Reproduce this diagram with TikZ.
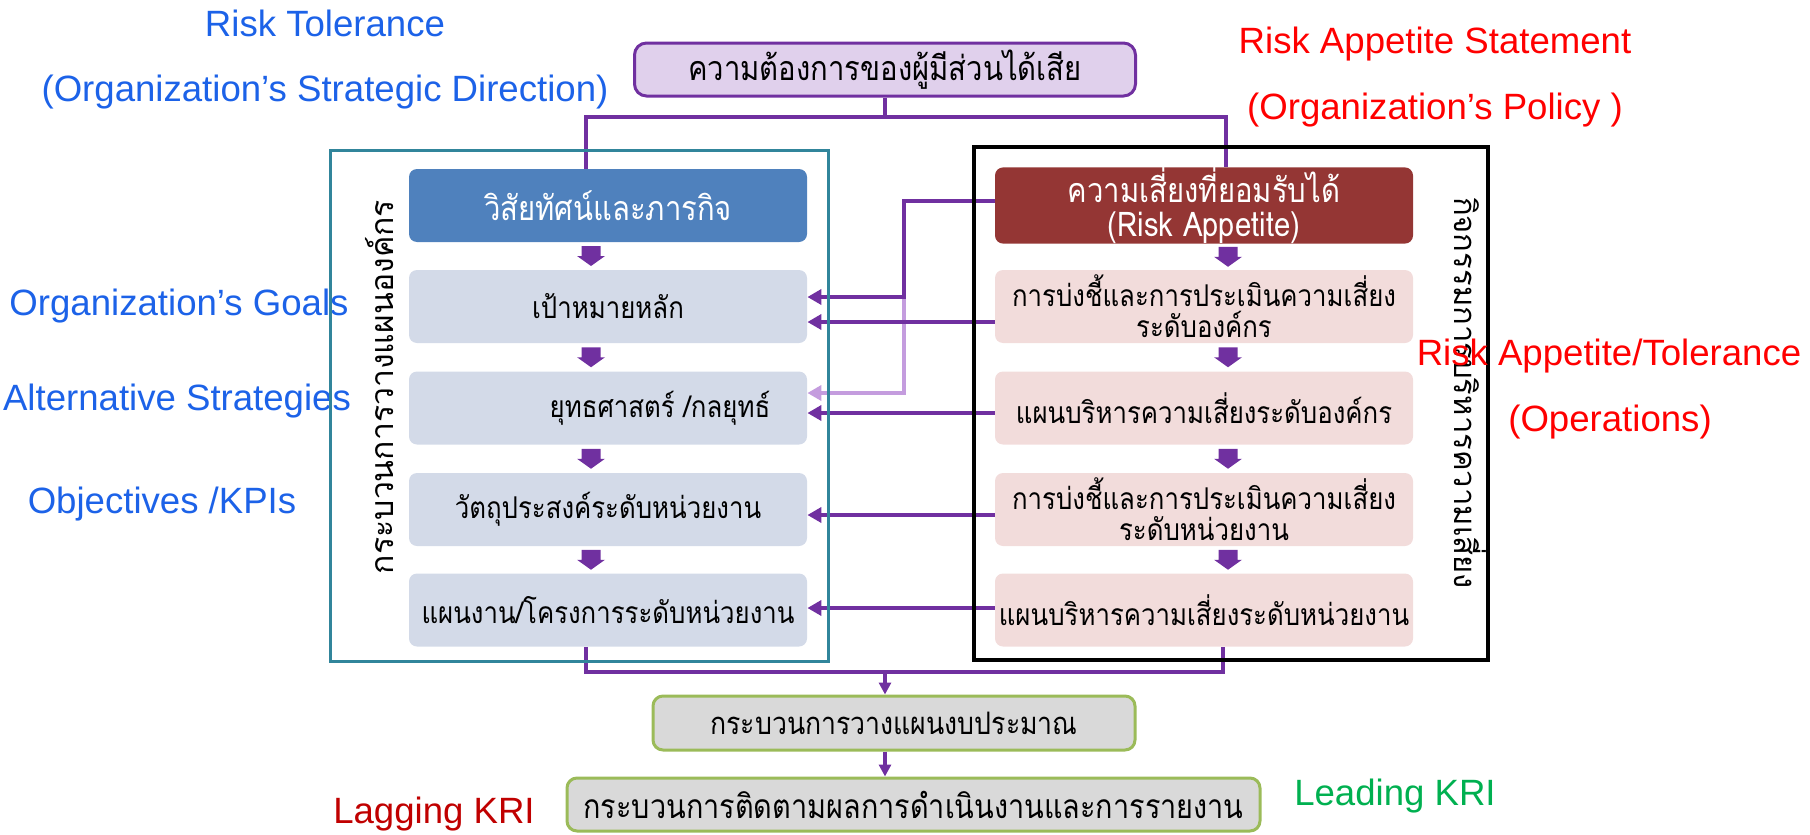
\documentclass[tikz,border=0pt]{standalone}
\usepackage{fontspec}
\setmainfont{Liberation Sans}
\newfontfamily\thaif[Script=Thai,FakeStretch=0.86]{Loma}
\newfontfamily\thaiv[Script=Thai]{Loma}
\usetikzlibrary{arrows.meta,calc}
\definecolor{purp}{RGB}{112,48,160}
\definecolor{lpurp}{RGB}{196,156,222}
\definecolor{topfill}{RGB}{224,208,236}
\definecolor{visblue}{RGB}{79,129,189}
\definecolor{lboxfill}{RGB}{211,218,232}
\definecolor{darkred}{RGB}{148,54,52}
\definecolor{pinkfill}{RGB}{242,220,219}
\definecolor{tealc}{RGB}{49,133,155}
\definecolor{grayfill}{RGB}{217,217,217}
\definecolor{greenb}{RGB}{155,187,89}
\definecolor{bluetext}{RGB}{28,98,232}
\definecolor{redtext}{RGB}{255,0,0}
\definecolor{lagred}{RGB}{192,0,0}
\definecolor{leadgreen}{RGB}{0,176,80}
\newcommand\thtext{\thaif\fontsize{15}{15.5}\selectfont}
\newcommand\thbig{\thaif\fontsize{17}{17}\selectfont}
\newcommand\lbl{\fontsize{18.3}{20}\selectfont}
\begin{document}
\begin{tikzpicture}[x=0.5pt,y=-0.5pt,
  pline/.style={draw=purp,line width=2pt},
  lpline/.style={draw=lpurp,line width=2pt},
  arr/.style={-{Triangle[length=7pt,width=7.5pt]}},
  arrs/.style={-{Triangle[length=6pt,width=6pt]}},
  lbox/.style={fill=lboxfill,rounded corners=4pt,minimum width=199pt,minimum height=36.5pt,inner sep=0pt,font=\thtext,align=center},
  rbox/.style={fill=pinkfill,rounded corners=4pt,minimum width=209pt,minimum height=36.5pt,inner sep=0pt,font=\thtext,align=center},
  gbox/.style={fill=grayfill,draw=greenb,line width=1.5pt,rounded corners=5pt,inner sep=0pt},
  bluelbl/.style={text=bluetext,font=\lbl,inner sep=0pt},
  redlbl/.style={text=redtext,font=\lbl,inner sep=0pt},
  blockdown/.pic={\fill[purp] (-4.75pt,5pt) -- (4.75pt,5pt) -- (4.75pt,0pt) -- (7pt,0pt) -- (0pt,-5pt) -- (-7pt,0pt) -- (-4.75pt,0pt) -- cycle;}
]
\useasboundingbox (0,0) rectangle (1810,835);

% left blue labels
\node[bluelbl] (rt) at (325,23) {Risk Tolerance};
\node[bluelbl] (rtsd) at (325,92) {(Organization’s Strategic Direction)};
\node[bluelbl] (og) at (179,306) {Organization’s Goals};
\node[bluelbl] (as) at (177,401) {Alternative Strategies};
\node[bluelbl] (ok) at (162,504) {Objectives /KPIs};

% boxes
\node[fill=topfill,draw=purp,line width=1.5pt,rounded corners=6pt,minimum width=250.5pt,minimum height=26.5pt,inner sep=0pt,font=\thbig] (top) at (885,69.5) {ความต้องการของผู้มีส่วนได้เสีย};

\node[lbox,fill=visblue,text=white,font=\thbig] (vision) at (608,205.5) {วิสัยทัศน์และภารกิจ};
\node[lbox] (goals) at (608,306.5) {เป้าหมายหลัก};
\node[lbox] (strat) at (608,408) {\hspace*{52pt}ยุทธศาสตร์ /กลยุทธ์};
\node[lbox] (obj) at (608,509.5) {วัตถุประสงค์ระดับหน่วยงาน};
\node[lbox] (plan) at (608,610) {แผนงาน/โครงการระดับหน่วยงาน};

\node[rbox,fill=darkred,text=white,font=\thbig,align=center] (riskapp) at (1204,205.5) {ความเสี่ยงที่ยอมรับได้\\(Risk Appetite)};
\node[rbox] (rgoals) at (1204,306.5) {การบ่งชี้และการประเมินความเสี่ยง\\ระดับองค์กร};
\node[rbox] (rstrat) at (1204,408) {แผนบริหารความเสี่ยงระดับองค์กร};
\node[rbox] (robj) at (1204,509.5) {การบ่งชี้และการประเมินความเสี่ยง\\ระดับหน่วยงาน};
\node[rbox] (rplan) at (1204,610) {แผนบริหารความเสี่ยงระดับหน่วยงาน};

\node[gbox,minimum width=241pt,minimum height=27pt,font=\thaif\fontsize{15.5}{16}\selectfont] (budget) at (894,723) {กระบวนการวางแผนงบประมาณ};
\node[gbox,minimum width=346.5pt,minimum height=26.5pt,font=\thaif\fontsize{16.75}{17}\selectfont] (monitor) at (913.5,804.5) {กระบวนการติดตามผลการดำเนินงานและการรายงาน};

% block arrows
\pic at ($(vision.south)!.5!(goals.north)+(-17,0)$) {blockdown};
\pic at ($(goals.south)!.5!(strat.north)+(-17,0)$) {blockdown};
\pic at ($(strat.south)!.5!(obj.north)+(-17,0)$) {blockdown};
\pic at ($(obj.south)!.5!(plan.north)+(-17,0)$) {blockdown};
\pic at ($(riskapp.south)!.5!(rgoals.north)+(24,0)$) {blockdown};
\pic at ($(rgoals.south)!.5!(rstrat.north)+(24,0)$) {blockdown};
\pic at ($(rstrat.south)!.5!(robj.north)+(24,0)$) {blockdown};
\pic at ($(robj.south)!.5!(rplan.north)+(24,0)$) {blockdown};

% connectors
\coordinate (j1) at (885,117);
\coordinate (j2) at (885,672);
\coordinate (k1) at (904,297);
\coordinate (k2) at (904,393);
\draw[pline] (top.south) -- (j1);
\draw[pline] ([xshift=-11pt]vision.north) |- (j1) -| ([xshift=11pt]riskapp.north);
\draw[pline] ([xshift=-11pt]plan.south) |- (j2) -| ([xshift=9.5pt]rplan.south);
\draw[pline,arrs,line width=1.75pt] (j2) -- (budget.north -| j2);
\draw[pline,arrs,line width=1.75pt] (budget.south -| j2) -- (monitor.north -| j2);

\draw[lpline,arr] (k1) -- (k2) -- ([yshift=7.5pt]strat.east);
\draw[pline,arr] ([yshift=2.25pt]riskapp.west) -| (k1) -- ([yshift=4.75pt]goals.east);
\draw[pline,arr] ([yshift=-7.75pt]rgoals.west) -- ([yshift=-7.75pt]goals.east);
\draw[pline,arr] ([yshift=-2.5pt]rstrat.west) -- ([yshift=-2.5pt]strat.east);
\draw[pline,arr] ([yshift=-2.75pt]robj.west) -- ([yshift=-2.75pt]obj.east);
\draw[pline,arr] ([yshift=1pt]rplan.west) -- ([yshift=1pt]plan.east);

% frames
\node[draw=tealc,line width=1.5pt,minimum width=249pt,minimum height=255.5pt,inner sep=0pt] (lframe) at (579,405.5) {};
\node[draw=black,line width=2pt,minimum width=257pt,minimum height=256.5pt,inner sep=0pt] (rframe) at (1231,403.5) {};

% vertical texts
\node[rotate=90,font=\thaiv\fontsize{16}{16}\selectfont,inner sep=0pt] (lvert) at (380,387) {กระบวนการวางแผนองค์กร};
\node[rotate=-90,font=\thaiv\fontsize{15.5}{16}\selectfont,inner sep=0pt] (rvert) at (1470,393) {กิจกรรมการบริหารความเสี่ยง};

% red labels
\node[redlbl] (ras) at (1435,44) {Risk Appetite Statement};
\node[redlbl] (rop) at (1435,110) {(Organization’s Policy )};
\node[redlbl] (rat) at (1609,356) {Risk Appetite/Tolerance};
\node[redlbl] (rops) at (1610,422) {(Operations)};

\node[text=lagred,font=\lbl,inner sep=0pt] (lag) at (434,814) {Lagging KRI};
\node[text=leadgreen,font=\lbl,inner sep=0pt] (lead) at (1395,796) {Leading KRI};
\end{tikzpicture}
\end{document}
